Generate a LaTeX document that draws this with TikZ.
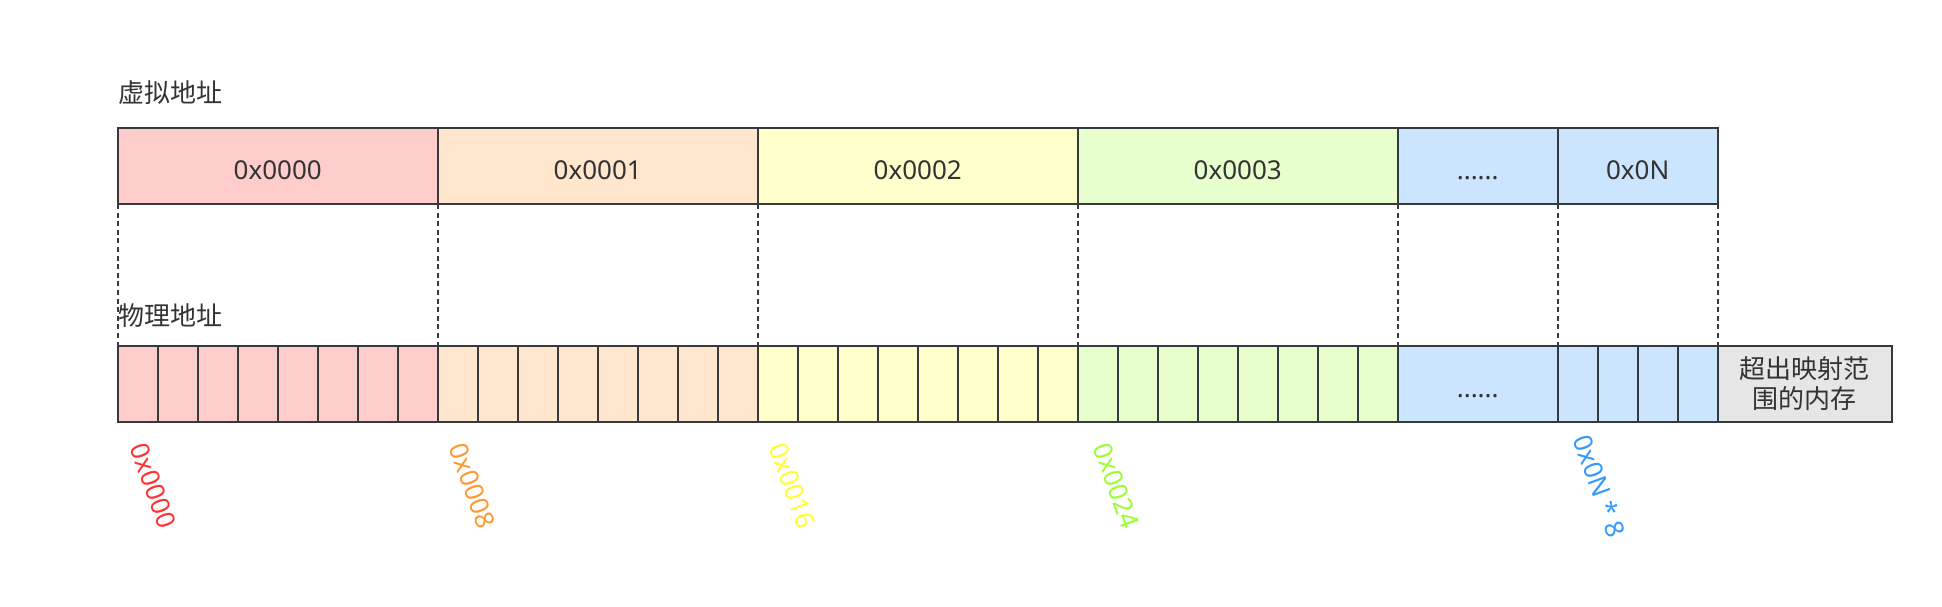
\documentclass[tikz,border=0pt]{standalone}
\usepackage{fontspec}
\setmainfont{Noto Sans}
\newfontfamily\cjk{Noto Sans CJK SC}
\usepackage{tikz}
\usetikzlibrary{calc,positioning}

\definecolor{linecol}{HTML}{36393D}
\definecolor{txtcol}{HTML}{333333}
\definecolor{redfill}{HTML}{FFCCCC}
\definecolor{orangefill}{HTML}{FFE6CC}
\definecolor{yellowfill}{HTML}{FFFFCC}
\definecolor{greenfill}{HTML}{E6FFCC}
\definecolor{bluefill}{HTML}{CCE5FF}
\definecolor{greyfill}{HTML}{E6E6E6}
\definecolor{redtxt}{HTML}{FF3333}
\definecolor{orangetxt}{HTML}{FF9933}
\definecolor{yellowtxt}{HTML}{FFFF33}
\definecolor{greentxt}{HTML}{99FF33}
\definecolor{bluetxt}{HTML}{3399FF}

\tikzset{
  cell/.style={draw=linecol, line width=1pt, minimum height=38pt, inner sep=0pt,
    outer sep=0pt, text=txtcol, font=\fontsize{13pt}{15pt}\selectfont},
  page/.style={cell, minimum width=160pt, text height=13pt, text depth=0pt},
  halfpage/.style={cell, minimum width=80pt, text height=13pt, text depth=0pt},
  divider/.style={draw=linecol, line width=1pt},
  map/.style={draw=linecol, line width=1pt, dash pattern=on 2.5pt off 1.8pt},
  title/.style={anchor=west, inner sep=0pt, text=txtcol, font=\cjk\fontsize{13pt}{15pt}\selectfont},
  addr/.style={rotate=-70, inner sep=0pt, font=\fontsize{13pt}{15pt}\selectfont}
}

\begin{document}
\begin{tikzpicture}[x=0.5pt, y=-0.5pt]
\useasboundingbox (0,0) rectangle (1942,606);

% virtual addresses
\node[title] (vtitle) at (118,93) {虚拟地址};
\node[page, fill=redfill, anchor=north west] (v0) at (117.7,128) {0x0000};
\node[page, fill=orangefill, right=0pt of v0] (v1) {0x0001};
\node[page, fill=yellowfill, right=0pt of v1] (v2) {0x0002};
\node[page, fill=greenfill, right=0pt of v2] (v3) {0x0003};
\node[halfpage, fill=bluefill, right=0pt of v3] (v4) {......};
\node[halfpage, fill=bluefill, right=0pt of v4] (v5) {0x0N};

% physical addresses
\node[title] (ptitle) at (118,316) {物理地址};
\node[page, fill=redfill, anchor=north west] (p0) at (117.7,346) {};
\node[page, fill=orangefill, right=0pt of p0] (p1) {};
\node[page, fill=yellowfill, right=0pt of p1] (p2) {};
\node[page, fill=greenfill, right=0pt of p2] (p3) {};
\node[halfpage, fill=bluefill, right=0pt of p3] (p4) {......};
\node[halfpage, fill=bluefill, right=0pt of p4] (p5) {};
\node[cell, minimum width=87pt, fill=greyfill, align=center, right=0pt of p5,
  font=\cjk\fontsize{13pt}{15pt}\selectfont] (rest) {超出映射范\\围的内存};

\foreach \n in {p0,p1,p2,p3}
  \foreach \i in {1,...,7}
    \draw[divider] ($(\n.north west)!\i/8!(\n.north east)$) -- ($(\n.south west)!\i/8!(\n.south east)$);
\foreach \i in {1,2,3}
  \draw[divider] ($(p5.north west)!\i/4!(p5.north east)$) -- ($(p5.south west)!\i/4!(p5.south east)$);

% mapping
\foreach \n in {0,...,5}
  \draw[map] (v\n.south west) -- (p\n.north west);
\draw[map] (v5.south east) -- (p5.north east);

% start addresses
\foreach \n/\dx/\lbl/\col in {0/36/0x0000/redtxt, 1/35/0x0008/orangetxt,
    2/35/0x0016/yellowtxt, 3/39/0x0024/greentxt, 5/42/{0x0N * 8}/bluetxt}
  \node[addr, text=\col] (a\n) at ($(p\n.south west)+(\dx,64)$) {\lbl};
\end{tikzpicture}
\end{document}
